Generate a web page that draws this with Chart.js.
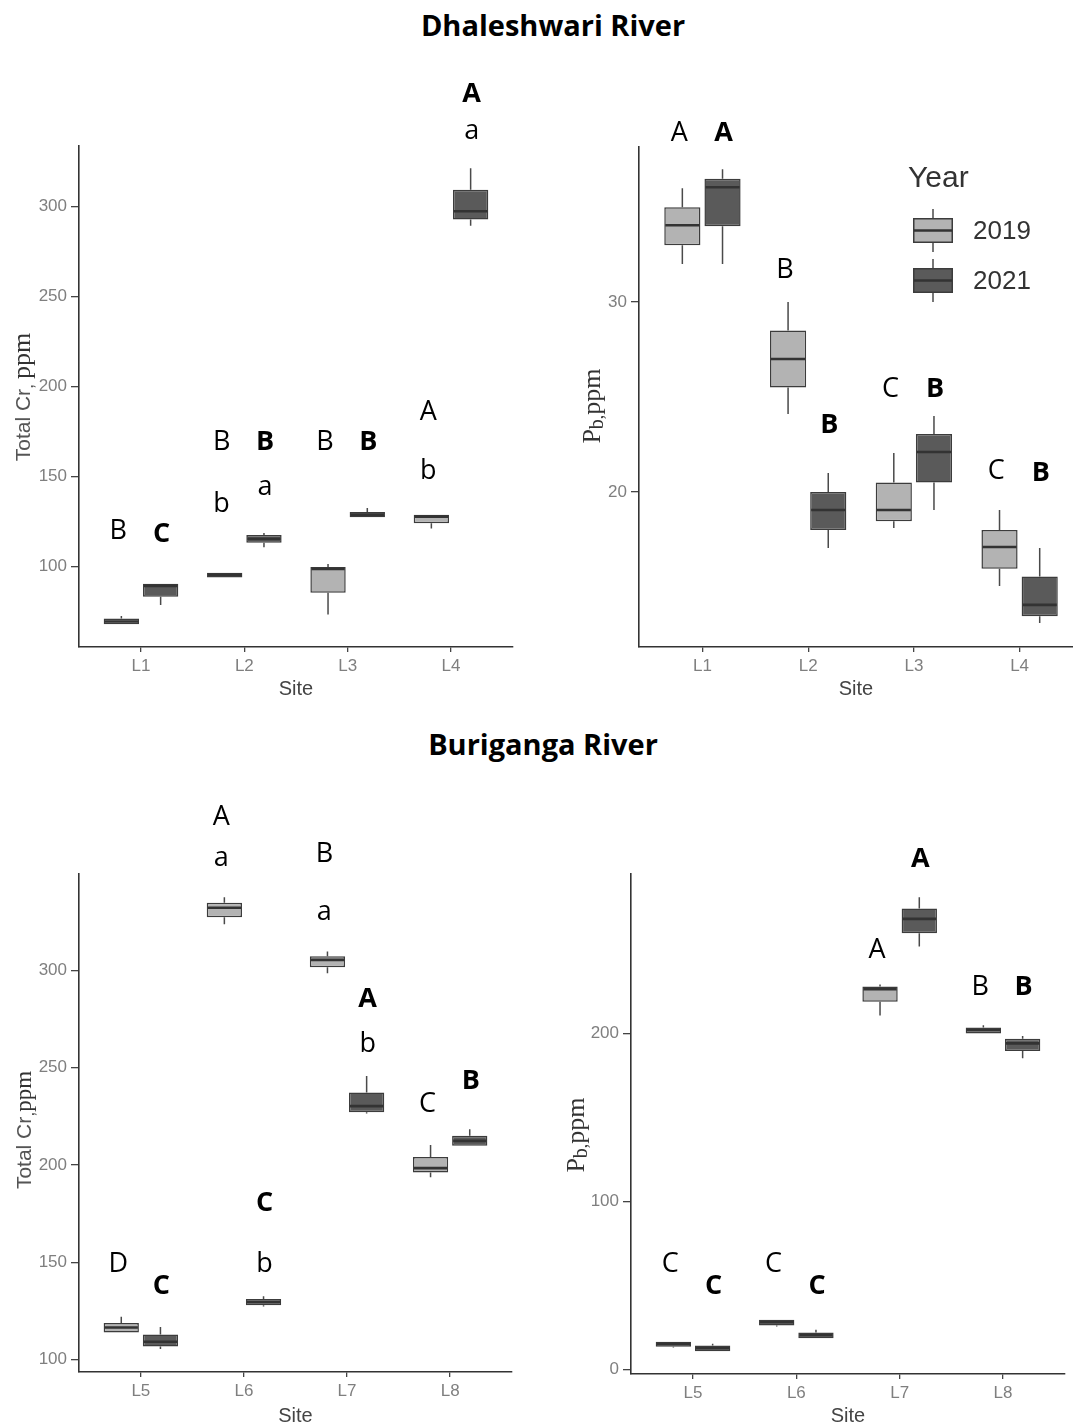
<!DOCTYPE html>
<html lang="en">
<head>
<meta charset="UTF-8">
<title>Total Cr and Pb by site</title>
<script src="https://cdn.jsdelivr.net/npm/chart.js"></script>
<style>
  body { margin: 0; background: #fff; width: 1073px; height: 1428px; position: relative; overflow: hidden; }
  .river { position: absolute; width: 600px; text-align: center; font: 700 29px/29px "Open Sans", sans-serif; color: #000; }
  canvas { position: absolute; }
</style>
</head>
<body>
<div class="river" style="left:253px;top:10px">Dhaleshwari River</div>
<div class="river" style="left:243px;top:729px">Buriganga River</div>
<canvas id="dhaCr" width="540" height="660" style="left:0;top:60px"></canvas>
<canvas id="dhaPb" width="533" height="660" style="left:540px;top:60px"></canvas>
<canvas id="burCr" width="540" height="668" style="left:0;top:760px"></canvas>
<canvas id="burPb" width="533" height="668" style="left:540px;top:760px"></canvas>

<script>
// each box: [min, q1, median, q3, max]
const dhaSites = ['L1', 'L2', 'L3', 'L4'];
const dhaCr2019 = [[68, 68, 69.5, 71.1, 72.6], [94, 94, 95.5, 96.6, 96.6], [73.3, 85.4, 98.7, 99.8, 101.5], [121.2, 124.1, 127.8, 128.8, 128.8]];
const dhaCr2021 = [[78.6, 83.3, 89.3, 90.4, 90.4], [110.7, 113.2, 115.4, 117.6, 118.7], [127.4, 127.4, 128.9, 130.4, 132.6], [289.5, 293, 297.5, 309.5, 321.5]];
const dhaPb2019 = [[32, 33, 34.05, 35, 36], [24.1, 25.5, 27, 28.5, 30], [18.1, 18.45, 19.05, 20.5, 22.05], [15.05, 15.95, 17.1, 18, 19.05]];
const dhaPb2021 = [[32, 34, 36.05, 36.5, 37], [17.05, 18, 19.05, 20, 21], [19.05, 20.5, 22.1, 23.05, 24], [13.1, 13.45, 14.05, 15.55, 17.05]];

const burSites = ['L5', 'L6', 'L7', 'L8'];
const burCr2019 = [[113.8, 113.8, 116.4, 118.7, 121.9], [323.8, 327.4, 332.3, 334.9, 337.8], [298.7, 301.7, 305.5, 307.4, 309.8], [193.7, 196.1, 198.4, 204.1, 210.3]];
const burCr2021 = [[105.3, 106.6, 109.1, 112.8, 116.6], [127.2, 127.8, 129.5, 131, 132.5], [226.5, 227.1, 230.3, 237.3, 245.8], [209.9, 209.9, 212.4, 215, 218.4]];
const burPb2019 = [[13, 13.4, 15, 16.4, 16.4], [25.4, 26.1, 27.9, 29.5, 29.5], [210.6, 218.7, 226.3, 227.9, 229], [199.8, 199.8, 201.8, 203.5, 204.8]];
const burPb2021 = [[10.8, 10.8, 12.5, 14.1, 15.2], [18.5, 18.5, 20.3, 21.9, 23.5], [251.7, 259.5, 268.1, 274.3, 281], [185.2, 189.4, 194, 196.8, 198.4]];

// group letters per site: [letter, value] or [letter, value, letter, value]
const dhaCrTags2019 = [['B', 120.5], ['B', 170, 'b', 135.5], ['B', 170], ['A', 187, 'b', 154]];
const dhaCrTags2021 = [['C', 119], ['B', 170, 'a', 144], ['B', 170], ['A', 363.5, 'a', 341.5]];
const dhaPbTags2019 = [['A', 39], ['B', 31.8], ['C', 25.5], ['C', 21.2]];
const dhaPbTags2021 = [['A', 39], ['B', 23.6], ['B', 25.5], ['B', 21.1]];
const burCrTags2019 = [['D', 150], ['A', 380, 'a', 357.5], ['B', 361, 'a', 330], ['C', 232.5]];
const burCrTags2021 = [['C', 138.5], ['C', 181.5, 'b', 150], ['A', 286.3, 'b', 263], ['B', 244]];
const burPbTags2019 = [['C', 63.8], ['C', 63.8], ['A', 250.5], ['B', 228.5]];
const burPbTags2021 = [['C', 50.4], ['C', 50.4], ['A', 304.5], ['B', 228.5]];

const crTicks1 = [100, 150, 200, 250, 300];
const pbTicks1 = [20, 30];
const crTicks2 = [100, 150, 200, 250, 300];
const pbTicks2 = [0, 100, 200];

const YEARS = ['2019', '2021'];
const BOX_FILL = ['#b3b3b3', '#5a5a5a'];
const BOX_LINE = '#3c3c3c';
const TAG_SHIFT = [-0.22, 0.2];

Chart.defaults.font.family = '"Liberation Sans", Arial, sans-serif';

// whiskers under the boxes, medians on top
const boxPlot = {
  id: 'boxPlot',
  beforeDatasetsDraw(chart) {
    const {ctx, scales: {y}} = chart;
    ctx.save();
    ctx.strokeStyle = '#4a4a4a';
    ctx.lineWidth = 1.5;
    ctx.beginPath();
    chart.data.datasets.forEach((ds, k) => {
      chart.getDatasetMeta(k).data.forEach((bar, i) => {
        const s = ds.stats[i];
        ctx.moveTo(bar.x, y.getPixelForValue(s[0]));
        ctx.lineTo(bar.x, y.getPixelForValue(s[1]));
        ctx.moveTo(bar.x, y.getPixelForValue(s[3]));
        ctx.lineTo(bar.x, y.getPixelForValue(s[4]));
      });
    });
    ctx.stroke();
    ctx.restore();
  },
  afterDatasetsDraw(chart) {
    const {ctx, scales: {y}} = chart;
    ctx.save();
    ctx.strokeStyle = '#333';
    ctx.lineWidth = 2.6;
    ctx.beginPath();
    chart.data.datasets.forEach((ds, k) => {
      chart.getDatasetMeta(k).data.forEach((bar, i) => {
        const py = y.getPixelForValue(ds.stats[i][2]);
        ctx.moveTo(bar.x - bar.width / 2 + 1, py);
        ctx.lineTo(bar.x + bar.width / 2 - 1, py);
      });
    });
    ctx.stroke();
    ctx.restore();
  }
};

// significance letters above the boxes
const groupTags = {
  id: 'groupTags',
  afterDraw(chart) {
    const {ctx, scales: {x, y}} = chart;
    ctx.save();
    ctx.fillStyle = '#000';
    ctx.textAlign = 'center';
    ctx.textBaseline = 'alphabetic';
    chart.data.datasets.forEach((ds, k) => {
      ds.tags.forEach((t, i) => {
        const px = x.getPixelForValue(i + 1 + TAG_SHIFT[k]);
        for (let j = 0; j < t.length; j += 2) {
          const txt = t[j];
          const lower = txt === txt.toLowerCase();
          const bold = k === 1 && !lower;
          ctx.font = (bold ? '700' : '400') + ' 27px "Open Sans", sans-serif';
          const rise = lower && !/[bdfhklt]/.test(txt) ? 0.27 : 0.36;
          ctx.fillText(txt, px, y.getPixelForValue(t[j + 1]) + rise * 27);
        }
      });
    });
    ctx.restore();
  }
};

// rotated y title built from pieces in different fonts
const yTitle = {
  id: 'yTitle',
  afterDraw(chart, args, opts) {
    const {ctx} = chart;
    const parts = opts.parts;
    ctx.save();
    let total = 0;
    parts.forEach(p => { ctx.font = p.font; total += ctx.measureText(p.text).width; });
    ctx.translate(opts.x, opts.y);
    ctx.rotate(-Math.PI / 2);
    ctx.textBaseline = 'alphabetic';
    ctx.textAlign = 'left';
    let cx = -total / 2;
    parts.forEach(p => {
      ctx.font = p.font;
      ctx.fillStyle = p.color;
      ctx.fillText(p.text, cx, p.dy || 0);
      cx += ctx.measureText(p.text).width;
    });
    ctx.restore();
  }
};

// Year key with small box glyphs
const yearKey = {
  id: 'yearKey',
  afterDraw(chart, args, opts) {
    const {ctx} = chart;
    ctx.save();
    ctx.fillStyle = '#333';
    ctx.font = '30px "Liberation Sans", Arial, sans-serif';
    ctx.textBaseline = 'alphabetic';
    ctx.fillText('Year', opts.left - 5, opts.top);
    YEARS.forEach((yr, k) => {
      const top = opts.top + 31 + k * 50;
      const cx = opts.left + 20;
      ctx.strokeStyle = '#4a4a4a';
      ctx.lineWidth = 1.5;
      ctx.beginPath();
      ctx.moveTo(cx, top - 9); ctx.lineTo(cx, top + 34);
      ctx.stroke();
      ctx.fillStyle = BOX_FILL[k];
      ctx.fillRect(opts.left, top, 40, 25);
      ctx.strokeStyle = BOX_LINE;
      ctx.strokeRect(opts.left + 0.75, top + 0.75, 38.5, 23.5);
      ctx.strokeStyle = '#333';
      ctx.lineWidth = 2.4;
      ctx.beginPath();
      ctx.moveTo(opts.left + 1, top + 12.5); ctx.lineTo(opts.left + 39, top + 12.5);
      ctx.stroke();
      ctx.fillStyle = '#333';
      ctx.font = '26px "Liberation Sans", Arial, sans-serif';
      ctx.textBaseline = 'middle';
      ctx.fillText(yr, opts.left + 60, top + 14);
    });
    ctx.restore();
  }
};

function boxPanel(id, cfg) {
  const extra = cfg.key ? [yearKey] : [];
  return new Chart(document.getElementById(id), {
    type: 'bar',
    data: {
      datasets: cfg.series.map((s, k) => ({
        label: YEARS[k],
        data: s.map((st, i) => ({x: i + 1, y: [st[1], st[3]]})),
        stats: s,
        tags: cfg.tags[k],
        backgroundColor: BOX_FILL[k],
        borderColor: BOX_LINE,
        borderWidth: 1.5,
        borderSkipped: false,
        categoryPercentage: 0.76,
        barPercentage: 0.9
      }))
    },
    options: {
      responsive: false,
      animation: false,
      layout: {padding: {left: 0, top: cfg.area.top, right: cfg.area.right, bottom: 0}},
      plugins: {
        legend: {display: false},
        tooltip: {enabled: false},
        yTitle: cfg.yTitle,
        yearKey: cfg.key || {}
      },
      scales: {
        x: {
          type: 'linear',
          offset: false,
          min: 0.4,
          max: cfg.xMax,
          afterBuildTicks: s => { s.ticks = cfg.sites.map((_, i) => ({value: i + 1})); },
          afterFit: s => { s.height = cfg.area.bottom; },
          grid: {offset: false, drawOnChartArea: false, tickLength: 5, color: '#444', lineWidth: 1.3},
          border: {color: '#333', width: 1.6},
          ticks: {color: '#7f7f7f', font: {size: 17}, padding: 4, callback: v => cfg.sites[v - 1]},
          title: {display: true, text: 'Site', color: '#444', font: {size: 20}, padding: {top: 0, bottom: cfg.sitePad}}
        },
        y: {
          min: cfg.yMin,
          max: cfg.yMax,
          afterBuildTicks: s => { s.ticks = cfg.yTicks.map(v => ({value: v})); },
          afterFit: s => { s.width = cfg.area.left; },
          grid: {drawOnChartArea: false, tickLength: 8, color: '#444', lineWidth: 1.3},
          border: {color: '#333', width: 1.6},
          ticks: {color: '#7f7f7f', font: {size: 17}, padding: 4}
        }
      }
    },
    plugins: [boxPlot, groupTags, yTitle, ...extra]
  });
}

const SANS = '"Liberation Sans", Arial, sans-serif';
const SERIF = '"Liberation Serif", "Times New Roman", serif';

boxPanel('dhaCr', {
  sites: dhaSites, series: [dhaCr2019, dhaCr2021], tags: [dhaCrTags2019, dhaCrTags2021],
  yMin: 55.3, yMax: 333.8, yTicks: crTicks1, xMax: 4.6, sitePad: 19,
  area: {left: 79, top: 86, right: 27, bottom: 73},
  yTitle: {x: 30, y: 337, parts: [
    {text: 'Total Cr', font: '21px ' + SANS, color: '#555'},
    {text: ', ', font: '18px ' + SANS, color: '#555', dy: 3},
    {text: 'ppm', font: '26px ' + SERIF, color: '#333'}
  ]}
});

boxPanel('dhaPb', {
  sites: dhaSites, series: [dhaPb2019, dhaPb2021], tags: [dhaPbTags2019, dhaPbTags2021],
  yMin: 11.83, yMax: 38.17, yTicks: pbTicks1, xMax: 4.505, sitePad: 19,
  area: {left: 99, top: 87, right: 0, bottom: 73},
  key: {left: 373, top: 127},
  yTitle: {x: 60, y: 346, parts: [
    {text: 'P', font: '26px ' + SERIF, color: '#333'},
    {text: 'b', font: '20px ' + SERIF, color: '#333', dy: 3},
    {text: ',', font: '18px ' + SERIF, color: '#333', dy: 3},
    {text: 'ppm', font: '26px ' + SERIF, color: '#333'}
  ]}
});

boxPanel('burCr', {
  sites: burSites, series: [burCr2019, burCr2021], tags: [burCrTags2019, burCrTags2021],
  yMin: 93.5, yMax: 349.7, yTicks: crTicks2, xMax: 4.6, sitePad: 0,
  area: {left: 79, top: 114, right: 28, bottom: 56},
  yTitle: {x: 31, y: 370, parts: [
    {text: 'Total Cr', font: '21px ' + SANS, color: '#555'},
    {text: ',', font: '18px ' + SANS, color: '#555', dy: 3},
    {text: 'ppm', font: '23px ' + SERIF, color: '#333'}
  ]}
});

boxPanel('burPb', {
  sites: burSites, series: [burPb2019, burPb2021], tags: [burPbTags2019, burPbTags2021],
  yMin: -2.8, yMax: 294.8, yTicks: pbTicks2, xMax: 4.6, sitePad: 0,
  area: {left: 91, top: 114, right: 8, bottom: 54},
  yTitle: {x: 44, y: 375, parts: [
    {text: 'P', font: '26px ' + SERIF, color: '#333'},
    {text: 'b', font: '20px ' + SERIF, color: '#333', dy: 3},
    {text: ',', font: '18px ' + SERIF, color: '#333', dy: 3},
    {text: 'ppm', font: '26px ' + SERIF, color: '#333'}
  ]}
});
</script>
</body>
</html>
